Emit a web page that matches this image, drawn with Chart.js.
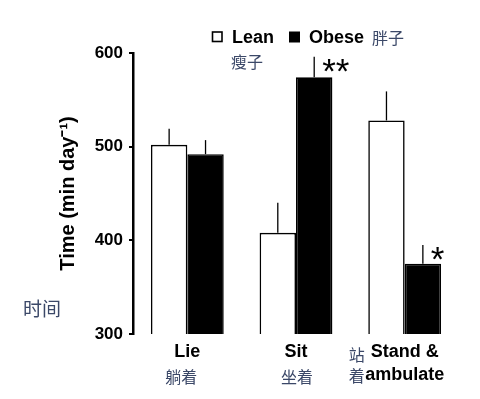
<!DOCTYPE html>
<html>
<head>
<meta charset="utf-8">
<script src="https://cdn.jsdelivr.net/npm/chart.js@4.4.1/dist/chart.umd.min.js"></script>
<style>
  html, body { margin: 0; padding: 0; background: #fff; }
  #wrap { width: 480px; height: 399px; position: relative; }
</style>
</head>
<body>
<div id="wrap"><canvas id="barChart"></canvas></div>
<script>
// chart data
var categories = [['Lie'], ['Sit'], ['Stand &', 'ambulate']];
var categoriesZh = ['躺着', '坐着', '站着'];
var leanValues = [502, 408, 528];
var obeseValues = [492, 574, 375];
var leanErrors = [17, 32, 31];
var obeseErrors = [15, 22, 20];
var obeseStars = ['', '**', '*'];
var yTicks = [300, 400, 500, 600];

var zhColor = '#3b4868';
var fontFamily = '"Liberation Sans", Arial, Helvetica, sans-serif';
var zhFamily = '"Noto Sans CJK SC", sans-serif';

// Draws the upward error lines, stars and the hand written notes
var annotations = {
    id: 'annotations',
    afterDatasetsDraw: function (chart) {
        var ctx = chart.ctx;
        var yScale = chart.scales.y;
        var xScale = chart.scales.x;
        var errs = [leanErrors, obeseErrors];
        var vals = [leanValues, obeseValues];
        ctx.save();
        ctx.strokeStyle = '#000';
        ctx.lineWidth = 1.3;
        for (var d = 0; d < 2; d++) {
            var meta = chart.getDatasetMeta(d);
            for (var i = 0; i < meta.data.length; i++) {
                var bar = meta.data[i];
                var top = yScale.getPixelForValue(vals[d][i] + errs[d][i]);
                ctx.beginPath();
                ctx.moveTo(bar.x, bar.y);
                ctx.lineTo(bar.x, top);
                ctx.stroke();
                if (d == 1 && obeseStars[i]) {
                    ctx.fillStyle = '#000';
                    ctx.font = '35px ' + fontFamily;
                    ctx.textAlign = 'left';
                    ctx.textBaseline = 'alphabetic';
                    ctx.fillText(obeseStars[i], bar.x + 8, top + 26);
                }
            }
        }

        // legend
        ctx.lineWidth = 1.6;
        ctx.strokeRect(212.5, 32, 9.5, 9.5);
        ctx.fillStyle = '#000';
        ctx.fillRect(289, 31.5, 11, 11);
        ctx.font = 'bold 18px ' + fontFamily;
        ctx.textAlign = 'left';
        ctx.textBaseline = 'middle';
        ctx.fillText('Lean', 232, 38);
        ctx.fillText('Obese', 309, 38);

        // chinese notes
        ctx.fillStyle = zhColor;
        ctx.font = '16px ' + zhFamily;
        ctx.fillText('胖子', 372, 38);
        ctx.fillText('瘦子', 231, 62);
        ctx.font = '19px ' + zhFamily;
        ctx.fillText('时间', 23, 309);
        ctx.font = '16px ' + zhFamily;
        ctx.textAlign = 'center';
        ctx.fillText(categoriesZh[0], xScale.getPixelForValue(0) - 6, 377);
        ctx.fillText(categoriesZh[1], xScale.getPixelForValue(1) + 1, 377);
        var sx = xScale.getPixelForValue(2) - 48;
        ctx.fillText(categoriesZh[2].charAt(0), sx, 355);
        ctx.fillText(categoriesZh[2].charAt(1), sx, 376);
        ctx.restore();
    }
};

var ctx = document.getElementById('barChart').getContext('2d');
var myChart = new Chart(ctx, {
    type: 'bar',
    data: {
        labels: categories,
        datasets: [{
            label: 'Lean',
            data: leanValues,
            backgroundColor: '#fff',
            borderColor: '#000',
            borderWidth: 1.6,
            borderSkipped: false
        }, {
            label: 'Obese',
            data: obeseValues,
            backgroundColor: '#000',
            borderColor: '#000',
            borderWidth: 1.6,
            borderSkipped: false
        }]
    },
    plugins: [annotations],
    options: {
        responsive: true,
        maintainAspectRatio: false,
        animation: false,
        layout: { padding: { top: 53, right: 21, bottom: 0, left: 0 } },
        datasets: { bar: { barPercentage: 1, categoryPercentage: 0.67 } },
        plugins: {
            legend: { display: false },
            tooltip: { enabled: false }
        },
        scales: {
            x: {
                grid: { display: false, drawTicks: false },
                border: { display: false },
                ticks: {
                    color: '#000',
                    padding: 6,
                    font: { family: fontFamily, size: 18, weight: 'bold', lineHeight: 1.3 }
                },
                afterFit: function (scale) { scale.height = 65; }
            },
            y: {
                min: 300,
                max: 600,
                afterBuildTicks: function (scale) {
                    scale.ticks = yTicks.map(function (v) { return { value: v }; });
                },
                grid: { drawOnChartArea: false, drawTicks: true, tickLength: 4, color: '#000', lineWidth: 2 },
                border: { display: true, color: '#000', width: 2.5 },
                ticks: {
                    color: '#000',
                    padding: 6,
                    font: { family: fontFamily, size: 17, weight: 'bold' }
                },
                title: {
                    display: true,
                    text: 'Time (min day\u207B\u00B9)',
                    color: '#000',
                    font: { family: fontFamily, size: 20, weight: 'bold' },
                    padding: { top: 56, bottom: 0 }
                },
                afterFit: function (scale) { scale.width = 133; }
            }
        }
    }
});
</script>
</body>
</html>
